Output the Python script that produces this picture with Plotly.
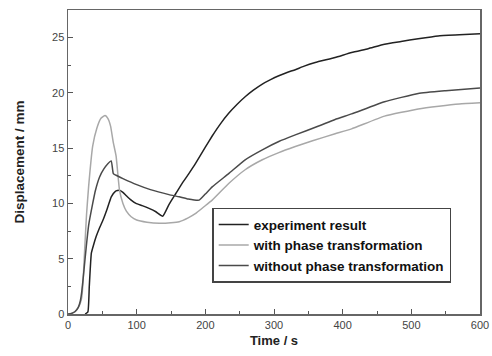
import plotly.graph_objects as go

# Experiment result
t_exp = [25, 29, 31, 34, 37, 41, 46, 51, 57, 63, 69, 75, 80, 85, 92, 99, 108, 118, 128, 138,
         147, 157, 166, 176, 186, 200, 210, 222, 234, 246, 258, 270, 283, 295, 307, 319, 331,
         343, 360, 389, 413, 437, 461, 485, 510, 539, 570, 600]
y_exp = [0, 0.2, 2.5, 5.5, 6.2, 7.0, 7.8, 8.5, 9.5, 10.6, 11.1, 11.2, 11.0, 10.7, 10.3, 10.0, 9.8, 9.55, 9.25, 8.85,
         9.9, 10.9, 11.8, 12.7, 13.65, 15.1, 16.1, 17.2, 18.15, 18.95, 19.65, 20.25, 20.8, 21.2, 21.55, 21.85, 22.1,
         22.4, 22.75, 23.2, 23.65, 24.0, 24.4, 24.65, 24.9, 25.15, 25.25, 25.35]

# With phase transformation
t_with = [0, 5, 10, 15, 18, 20, 22, 24, 27, 30, 36, 42, 48, 54, 58, 62, 66, 70, 75, 80, 85, 92, 100,
          115, 133, 150, 162, 175, 186, 198, 210, 234, 258, 283, 307, 331, 355, 389, 413, 461, 510, 540, 570, 600]
y_with = [0, 0.05, 0.2, 0.6, 1.0, 1.5, 3.0, 5.5, 9.0, 11.5, 15.2, 16.8, 17.7, 17.95, 17.7, 17.0, 15.5, 14.3, 11.2, 10.0, 9.3, 8.8, 8.5,
          8.3, 8.2, 8.25, 8.35, 8.7, 9.1, 9.7, 10.3, 11.8, 13.05, 13.95, 14.6, 15.15, 15.65, 16.3, 16.75, 17.9, 18.55, 18.8, 19.0, 19.1]

# Without phase transformation
t_without = [0, 5, 10, 15, 18, 20, 23, 26.6, 30, 36, 40, 46, 52, 58, 63, 66, 70, 80, 100, 120, 147, 162,
             175, 191, 200, 210, 234, 258, 283, 307, 331, 365, 389, 413, 461, 510, 550, 600]
y_without = [0, 0.05, 0.2, 0.6, 1.2, 2.0, 3.8, 6.1, 8.0, 10.0, 11.2, 12.4, 13.1, 13.6, 13.85, 12.7, 12.55, 12.25, 11.7, 11.25, 10.8, 10.6,
             10.4, 10.3, 10.85, 11.5, 12.7, 13.95, 14.85, 15.6, 16.2, 17.0, 17.6, 18.1, 19.2, 19.95, 20.2, 20.45]

series_names = ["experiment result", "with phase transformation", "without phase transformation"]

fig = go.Figure()
fig.add_trace(go.Scatter(x=t_exp, y=y_exp, mode="lines", name="<b>" + series_names[0] + "</b>",
                         line=dict(color="#222222", width=1.5, shape="spline", smoothing=0.4)))
fig.add_trace(go.Scatter(x=t_with, y=y_with, mode="lines", name="<b>" + series_names[1] + "</b>",
                         line=dict(color="#a8a8a8", width=1.5, shape="spline", smoothing=0.4)))
fig.add_trace(go.Scatter(x=t_without, y=y_without, mode="lines", name="<b>" + series_names[2] + "</b>",
                         line=dict(color="#4a4a4a", width=1.5, shape="spline", smoothing=0.4)))

axis_common = dict(showgrid=False, zeroline=False, showline=True, linecolor="#666666", linewidth=1.5,
                   mirror=True, ticks="inside", ticklen=5, tickwidth=1, tickcolor="#555555",
                   automargin=False, ticklabeloverflow="allow",
                   tickfont=dict(family="Liberation Sans, Arial", size=11, color="#444444"))

fig.update_xaxes(range=[0, 600], dtick=100, tick0=0,
                 minor=dict(dtick=50, ticks="inside", ticklen=3, tickcolor="#555555", showgrid=False),
                 title=dict(text="<b>Time / s</b>", font=dict(family="Liberation Sans, Arial", size=13, color="#222"),
                            standoff=6),
                 **axis_common)
fig.update_yaxes(range=[0, 27.5], dtick=5, tick0=0,
                 minor=dict(dtick=2.5, ticks="inside", ticklen=3, tickcolor="#555555", showgrid=False),
                 title=dict(text="<b>Displacement / mm</b>", font=dict(family="Liberation Sans, Arial", size=13.5, color="#222"),
                            standoff=24),
                 **axis_common)

fig.update_layout(
    width=492, height=356,
    margin=dict(l=68, r=12, t=10, b=42),
    paper_bgcolor="white", plot_bgcolor="white",
    showlegend=True,
    legend=dict(x=0.35, y=0.35, xanchor="left", yanchor="top",
                bordercolor="#444444", borderwidth=1.5, bgcolor="white",
                font=dict(family="Liberation Sans, Arial", size=13.5, color="#111"),
                tracegroupgap=0, itemwidth=30),
)

# remove the default page margin so the 492x356 figure fills the window exactly
fig.write_html("out.html",
               config={"displayModeBar": False, "staticPlot": True},
               post_script="document.body.style.margin='0';document.body.style.overflow='hidden';")
